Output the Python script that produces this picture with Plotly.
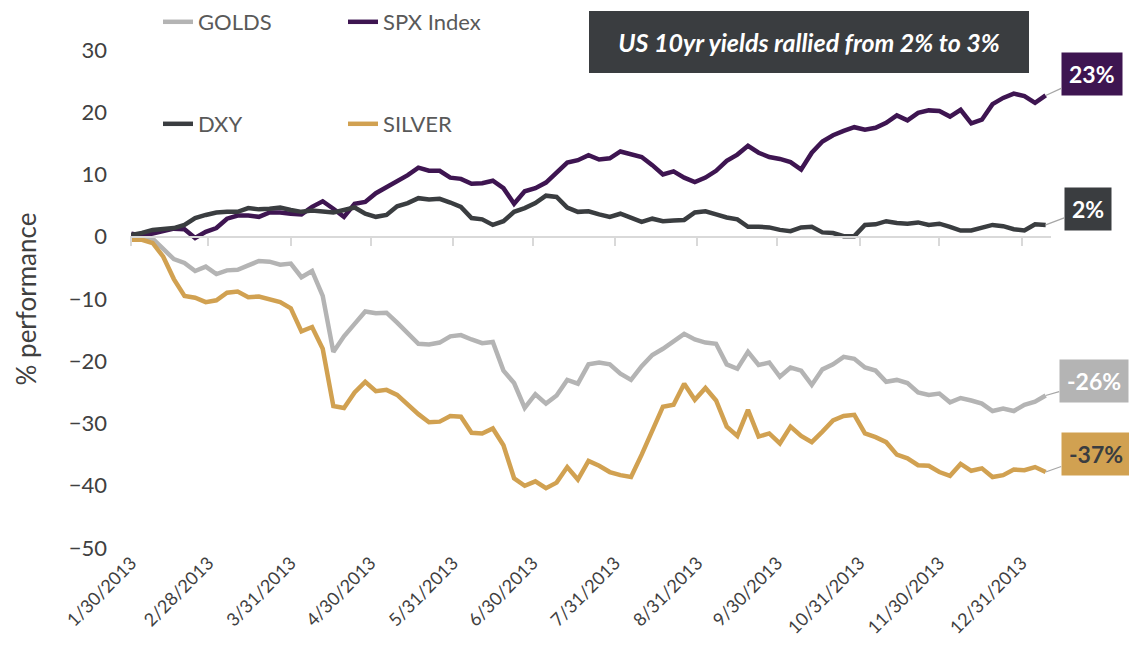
import pandas as pd
import plotly.graph_objects as go

# sample dates (every 4 calendar days, 1/30/2013 .. 1/9/2014)
dates = pd.date_range("2013-01-30", periods=87, freq="4D")

golds = [0, 0, -0.3, -2.0, -3.6, -4.2, -5.5, -4.8, -6.0, -5.4,
         -5.3, -4.6, -3.9, -4.0, -4.5, -4.3, -6.5, -5.5, -9.5, -18.5,
         -16.0, -14.0, -12.0, -12.3, -12.2, -13.8, -15.5, -17.2, -17.3, -17.0,
         -16.0, -15.8, -16.5, -17.1, -16.9, -21.5, -23.5, -27.5, -25.3, -26.8,
         -25.5, -23.0, -23.6, -20.5, -20.2, -20.5, -22.0, -23.0, -20.8, -19.0,
         -18.0, -16.8, -15.6, -16.5, -17.0, -17.2, -20.5, -21.2, -18.5, -20.6,
         -20.2, -22.5, -21.0, -21.5, -23.8, -21.3, -20.5, -19.3, -19.6, -21.0,
         -21.5, -23.3, -23.0, -23.5, -25.0, -25.4, -25.2, -26.6, -25.9, -26.3,
         -26.8, -28.0, -27.6, -28.0, -27.0, -26.5, -25.5]

spx = [0.5, 0.2, 0.5, 0.9, 1.3, 1.2, -0.2, 0.8, 1.4, 2.9,
       3.4, 3.4, 3.2, 3.9, 3.9, 3.7, 3.6, 4.8, 5.7, 4.5,
       3.2, 5.3, 5.6, 7.0, 8.0, 8.8, 9.9, 11.1, 10.6, 10.6,
       9.5, 9.3, 8.5, 8.6, 9.0, 7.8, 5.3, 7.3, 7.8, 8.7,
       10.3, 11.9, 12.3, 13.1, 12.4, 12.6, 13.7, 13.3, 12.8, 11.5,
       10.0, 10.5, 9.5, 8.8, 9.5, 10.6, 12.2, 13.2, 14.6, 13.5,
       12.8, 12.5, 12.0, 10.8, 13.5, 15.3, 16.3, 17.0, 17.6, 17.2,
       17.5, 18.3, 19.5, 18.7, 19.9, 20.3, 20.2, 19.3, 20.4, 18.2,
       18.8, 21.3, 22.3, 23.0, 22.6, 21.5, 22.7]

dxy = [0.3, 0.6, 1.1, 1.2, 1.4, 1.9, 3.0, 3.5, 3.9, 4.0,
       4.0, 4.6, 4.4, 4.5, 4.7, 4.3, 4.0, 4.2, 4.0, 3.9,
       4.3, 4.7, 3.7, 3.2, 3.5, 4.9, 5.4, 6.2, 6.0, 6.1,
       5.5, 4.8, 3.0, 2.8, 1.9, 2.5, 4.0, 4.6, 5.4, 6.6,
       6.4, 4.7, 4.0, 4.1, 3.6, 3.2, 3.7, 3.0, 2.4, 2.9,
       2.5, 2.6, 2.7, 3.9, 4.1, 3.6, 3.1, 2.8, 1.6, 1.6,
       1.5, 1.1, 0.9, 1.5, 1.6, 0.7, 0.6, 0.1, 0.1, 1.9,
       2.0, 2.5, 2.2, 2.1, 2.3, 1.9, 2.1, 1.6, 1.0, 1.0,
       1.5, 1.9, 1.7, 1.2, 1.0, 2.0, 1.9]

silver = [-0.5, -0.5, -1.0, -3.2, -6.8, -9.5, -9.8, -10.5, -10.2, -9.0,
          -8.8, -9.7, -9.6, -10.0, -10.5, -11.5, -15.2, -14.5, -18.0, -27.2,
          -27.5, -25.0, -23.3, -24.8, -24.6, -25.4, -27.0, -28.5, -29.8, -29.7,
          -28.8, -28.9, -31.5, -31.6, -30.8, -33.5, -38.8, -40.0, -39.3, -40.4,
          -39.5, -37.0, -39.0, -36.0, -36.8, -37.8, -38.3, -38.6, -35.0, -31.0,
          -27.3, -27.0, -23.6, -26.2, -24.3, -26.3, -30.5, -32.0, -27.8, -32.1,
          -31.6, -33.2, -30.5, -32.0, -33.0, -31.3, -29.5, -28.8, -28.6, -31.6,
          -32.2, -33.0, -35.0, -35.6, -36.7, -36.8, -37.8, -38.4, -36.5, -37.6,
          -37.2, -38.6, -38.3, -37.4, -37.5, -37.0, -37.8]

tick_dates = ["2013-01-30", "2013-02-28", "2013-03-31", "2013-04-30", "2013-05-31",
              "2013-06-30", "2013-07-31", "2013-08-31", "2013-09-30", "2013-10-31",
              "2013-11-30", "2013-12-31"]
tick_labels = ["1/30/2013", "2/28/2013", "3/31/2013", "4/30/2013", "5/31/2013",
               "6/30/2013", "7/31/2013", "8/31/2013", "9/30/2013", "10/31/2013",
               "11/30/2013", "12/31/2013"]

end_labels = ["-26%", "23%", "2%", "-37%"]

C_GOLD = "#b4b4b4"
C_SPX = "#3e1551"
C_DXY = "#3a3d40"
C_SILVER = "#d1a151"
FONT = "Lato"

# page body has an 8px margin: target screen positions are shifted by 8
OFF = 8
L, R, T, B = 130 - OFF, 1137 - (1051 - OFF), 50 - OFF, 650 - (548 - OFF)
PW, PH = 1137 - L - R, 650 - T - B


def px_x(px):
    return (px - OFF - L) / PW


def px_y(py):
    return (650 - B - (py - OFF)) / PH


series = [
    ("GOLDS", golds, C_GOLD, "legend", 1),
    ("SPX Index", spx, C_SPX, "legend", 2),
    ("DXY", dxy, C_DXY, "legend2", 3),
    ("SILVER", silver, C_SILVER, "legend2", 4),
]

fig = go.Figure()
for name, vals, col, leg, rank in series:
    fig.add_trace(go.Scatter(
        x=dates, y=vals, name=name, mode="lines",
        line=dict(color=col, width=4.5),
        legend=leg, legendrank=rank, hoverinfo="x+y+name",
    ))

# zero-line axis with month tick marks
fig.add_trace(go.Scatter(x=[], y=[], xaxis="x2", showlegend=False, hoverinfo="skip"))

leg_common = dict(
    orientation="h", xanchor="left", yanchor="middle",
    entrywidth=140, entrywidthmode="pixels",
    font=dict(size=22, color="#595959"), bgcolor="rgba(0,0,0,0)",
)

fig.update_layout(
    width=1137, height=650,
    margin=dict(l=L, r=R, t=T, b=B, autoexpand=False),
    paper_bgcolor="white", plot_bgcolor="white",
    font=dict(family=FONT, color="#404040"),
    xaxis=dict(
        type="date",
        range=["2013-01-29 12:00", "2014-01-11"],
        tickvals=tick_dates, ticktext=tick_labels, tickangle=-45,
        tickfont=dict(size=18, color="#404040"),
        showgrid=False, zeroline=False, showline=False, ticks="",
    ),
    xaxis2=dict(
        type="date", overlaying="x", matches="x", anchor="free", position=0.625,
        showline=True, linecolor="#d9d9d9", linewidth=2,
        ticks="outside", ticklen=8, tickwidth=2, tickcolor="#d9d9d9",
        tickvals=tick_dates, showticklabels=False,
        showgrid=False, zeroline=False,
    ),
    yaxis=dict(
        range=[-50, 30], dtick=10, showgrid=False, zeroline=False, showline=False,
        tickfont=dict(size=22, color="#404040"), ticklabelstandoff=22,
        title=dict(text="% performance", font=dict(size=26, color="#404040"), standoff=24),
    ),
    legend=dict(x=px_x(158), y=px_y(22), **leg_common),
    legend2=dict(x=px_x(158), y=px_y(124), **leg_common),
    showlegend=True,
)

# title box
fig.add_annotation(
    xref="paper", yref="paper", x=px_x(809), y=px_y(42),
    text="<b><i>US 10yr yields rallied from 2% to 3%</i></b>",
    showarrow=False, bgcolor="#3a3d40", font=dict(size=25, color="white", family=FONT),
    width=424, height=46, borderpad=8, borderwidth=0, xanchor="center", yanchor="middle",
)

# end labels
label_style = [
    (golds, C_GOLD, "white", 48, -14),
    (spx, C_SPX, "white", 46, -21),
    (dxy, C_DXY, "white", 42, -16),
    (silver, C_SILVER, "#3a3d40", 50, -18),
]
for (vals, bg, fc, ax, ay), txt in zip(label_style, end_labels):
    fig.add_annotation(
        x=dates[-1], y=vals[-1], xref="x", yref="y",
        text="<b>" + txt + "</b>", showarrow=True, arrowhead=0, arrowwidth=1.2,
        arrowcolor="#a6a6a6", ax=ax, ay=ay, bgcolor=bg, borderpad=7,
        font=dict(size=23, color=fc, family=FONT),
    )

fig.write_html("out.html")
